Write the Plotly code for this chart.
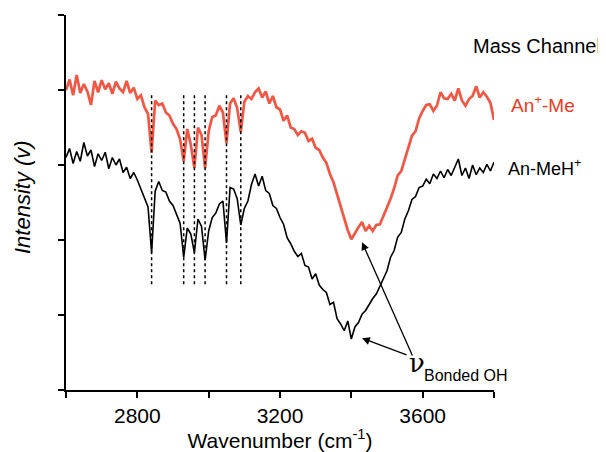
import plotly.graph_objects as go

# wavenumber grid (cm-1)
wavenumber = [
    2600, 2610, 2620, 2630, 2640, 2650, 2660, 2670, 2680, 2690,
    2700, 2710, 2720, 2730, 2740, 2750, 2760, 2770, 2780, 2790,
    2800, 2810, 2820, 2830, 2840, 2850, 2860, 2870, 2880, 2890,
    2900, 2910, 2920, 2930, 2940, 2950, 2960, 2970, 2980, 2990,
    3000, 3010, 3020, 3030, 3040, 3050, 3060, 3070, 3080, 3090,
    3100, 3110, 3120, 3130, 3140, 3150, 3160, 3170, 3180, 3190,
    3200, 3210, 3220, 3230, 3240, 3250, 3260, 3270, 3280, 3290,
    3300, 3310, 3320, 3330, 3340, 3350, 3360, 3370, 3380, 3390,
    3400, 3410, 3420, 3430, 3440, 3450, 3460, 3470, 3480, 3490,
    3500, 3510, 3520, 3530, 3540, 3550, 3560, 3570, 3580, 3590,
    3600, 3610, 3620, 3630, 3640, 3650, 3660, 3670, 3680, 3690,
    3700, 3710, 3720, 3730, 3740, 3750, 3760, 3770, 3780, 3790,
    3800,
]

# An+-Me mass channel (offset intensity)
an_me = [
    4.00, 4.14, 3.93, 4.20, 3.96, 4.08, 3.98, 3.80, 4.12, 3.97,
    4.13, 4.01, 4.09, 3.95, 4.11, 4.02, 3.97, 4.12, 3.96, 4.03,
    3.88, 3.93, 3.77, 3.68, 3.16, 3.86, 3.80, 3.82, 3.70, 3.66,
    3.55, 3.48, 3.34, 3.05, 3.48, 3.27, 2.96, 3.50, 3.40, 2.96,
    3.45, 3.64, 3.66, 3.79, 3.70, 3.29, 3.82, 3.89, 3.76, 3.44,
    3.84, 3.92, 3.88, 3.97, 4.02, 3.90, 3.98, 3.82, 3.92, 3.77,
    3.74, 3.59, 3.66, 3.50, 3.48, 3.40, 3.45, 3.43, 3.32, 3.35,
    3.23, 3.20, 3.10, 3.03, 2.88, 2.77, 2.61, 2.45, 2.27, 2.13,
    2.01, 2.10, 2.17, 2.24, 2.12, 2.19, 2.12, 2.20, 2.21, 2.32,
    2.43, 2.55, 2.69, 2.86, 2.92, 3.08, 3.22, 3.39, 3.45, 3.62,
    3.72, 3.80, 3.81, 3.72, 3.79, 3.97, 3.89, 3.88, 3.95, 3.86,
    4.02, 3.86, 3.79, 3.88, 3.92, 4.05, 3.90, 3.97, 3.91, 3.83,
    3.60,
]

# An-MeH+ mass channel
an_meh = [
    3.10, 3.22, 3.02, 3.18, 3.05, 3.30, 3.12, 3.20, 2.98, 3.15,
    3.06, 3.17, 2.95, 3.10, 3.00, 3.08, 2.90, 2.97, 2.82, 2.90,
    2.80, 2.68, 2.58, 2.44, 1.83, 2.65, 2.78, 2.66, 2.64, 2.52,
    2.46, 2.34, 2.22, 1.77, 2.16, 2.08, 1.83, 2.28, 2.18, 1.73,
    2.12, 2.30, 2.36, 2.48, 2.52, 1.96, 2.70, 2.68, 2.55, 2.20,
    2.42, 2.52, 2.74, 2.88, 2.72, 2.85, 2.66, 2.62, 2.46, 2.42,
    2.30, 2.21, 2.03, 1.95, 1.85, 1.78, 1.82, 1.66, 1.64, 1.48,
    1.55, 1.40, 1.34, 1.30, 1.14, 1.17, 0.95, 0.88, 0.79, 0.92,
    0.68, 0.84, 0.90, 1.01, 1.06, 1.14, 1.22, 1.28, 1.39, 1.50,
    1.59, 1.77, 1.86, 2.04, 2.10, 2.28, 2.39, 2.54, 2.58, 2.70,
    2.72, 2.81, 2.75, 2.88, 2.82, 2.92, 2.83, 2.94, 2.86, 2.97,
    3.08, 2.86, 2.96, 2.82, 3.00, 2.87, 2.96, 2.90, 3.01, 2.92,
    3.04,
]

# CH stretch bands marked by dotted lines
band_positions = [2840, 2930, 2960, 2990, 3050, 3090]
band_top, band_bottom = 3.96, 1.41

x_ticks = [2600, 2800, 3000, 3200, 3400, 3600, 3800]
x_tick_labels = ["", "2800", "", "3200", "", "3600", ""]

red = "rgb(238,58,36)"
font = "Arial, Liberation Sans, sans-serif"

# the page body has an 8px margin, so the figure is made 8px smaller
W, H = 598, 444
L, R, T, B = 58, 112, 7, 62
pw, ph = W - L - R, H - T - B


def px_to_paper(px, py):
    # page pixel position -> paper coords of the plot area (66..494, 15..390)
    return (px - 66) / pw, 1 - (py - 15) / ph


fig = go.Figure()

for bx in band_positions:
    fig.add_shape(
        type="line", xref="x", yref="y",
        x0=bx, x1=bx, y0=band_bottom, y1=band_top,
        line=dict(color="black", width=1.5, dash="dot"),
    )

fig.add_trace(
    go.Scatter(
        x=wavenumber, y=an_me, mode="lines",
        line=dict(color="rgba(238,58,36,0.85)", width=2.7),
        showlegend=False,
    )
)
fig.add_trace(
    go.Scatter(
        x=wavenumber, y=an_meh, mode="lines",
        line=dict(color="black", width=1.6),
        showlegend=False,
    )
)

# arrows to the bonded OH minima
for head_x, head_y, tail_x, tail_y in [(3430, 1.97, 3573, 0.44), (3430, 0.69, 3559, 0.46)]:
    fig.add_annotation(
        x=head_x, y=head_y, ax=tail_x, ay=tail_y,
        xref="x", yref="y", axref="x", ayref="y",
        text="", showarrow=True, arrowhead=2, arrowsize=1.2,
        arrowwidth=1.3, arrowcolor="black",
    )

fig.add_annotation(
    x=3556, y=0.36, xref="x", yref="y", text="ν", showarrow=False,
    font=dict(family="DejaVu Serif, serif", size=26, color="black"),
    xanchor="left", yanchor="middle",
)
fig.add_annotation(
    x=3597, y=0.19, xref="x", yref="y", text="Bonded OH", showarrow=False,
    font=dict(family=font, size=16, color="black"),
    xanchor="left", yanchor="middle",
)

# legend texts
for px, py, txt, size, col in [
    (471, 46, "Mass Channel", 20, "black"),
    (509, 104, "An<sup>+</sup>-Me", 19, red),
    (506, 168, "An-MeH<sup>+</sup>", 18, "black"),
]:
    ax_, ay_ = px_to_paper(px, py)
    fig.add_annotation(
        x=ax_, y=ay_, xref="paper", yref="paper", text=txt,
        showarrow=False, font=dict(family=font, size=size, color=col),
        xanchor="left", yanchor="middle",
    )

# y axis title
tx, ty = px_to_paper(22, 197)
fig.add_annotation(
    x=tx, y=ty, xref="paper", yref="paper", text="<i>Intensity (v)</i>",
    showarrow=False, textangle=-90, font=dict(family=font, size=22, color="black"),
    xanchor="center", yanchor="middle",
)

fig.update_layout(
    width=W,
    height=H,
    margin=dict(l=L, r=R, t=T, b=B),
    plot_bgcolor="white",
    paper_bgcolor="white",
    font=dict(family=font, color="black"),
    xaxis=dict(
        range=[2600, 3800],
        tickvals=x_ticks,
        ticktext=x_tick_labels,
        ticks="outside",
        ticklen=6,
        tickwidth=2,
        tickcolor="black",
        showline=True,
        linecolor="black",
        linewidth=2,
        showgrid=False,
        zeroline=False,
        tickfont=dict(size=21),
        title=dict(text="Wavenumber (cm<sup>-1</sup>)", font=dict(size=21), standoff=4),
    ),
    yaxis=dict(
        range=[0, 5],
        tickvals=[0, 1, 2, 3, 4, 5],
        showticklabels=False,
        ticks="outside",
        ticklen=6,
        tickwidth=2,
        tickcolor="black",
        showline=True,
        linecolor="black",
        linewidth=2,
        showgrid=False,
        zeroline=False,
    ),
)

fig.write_html("out.html")
